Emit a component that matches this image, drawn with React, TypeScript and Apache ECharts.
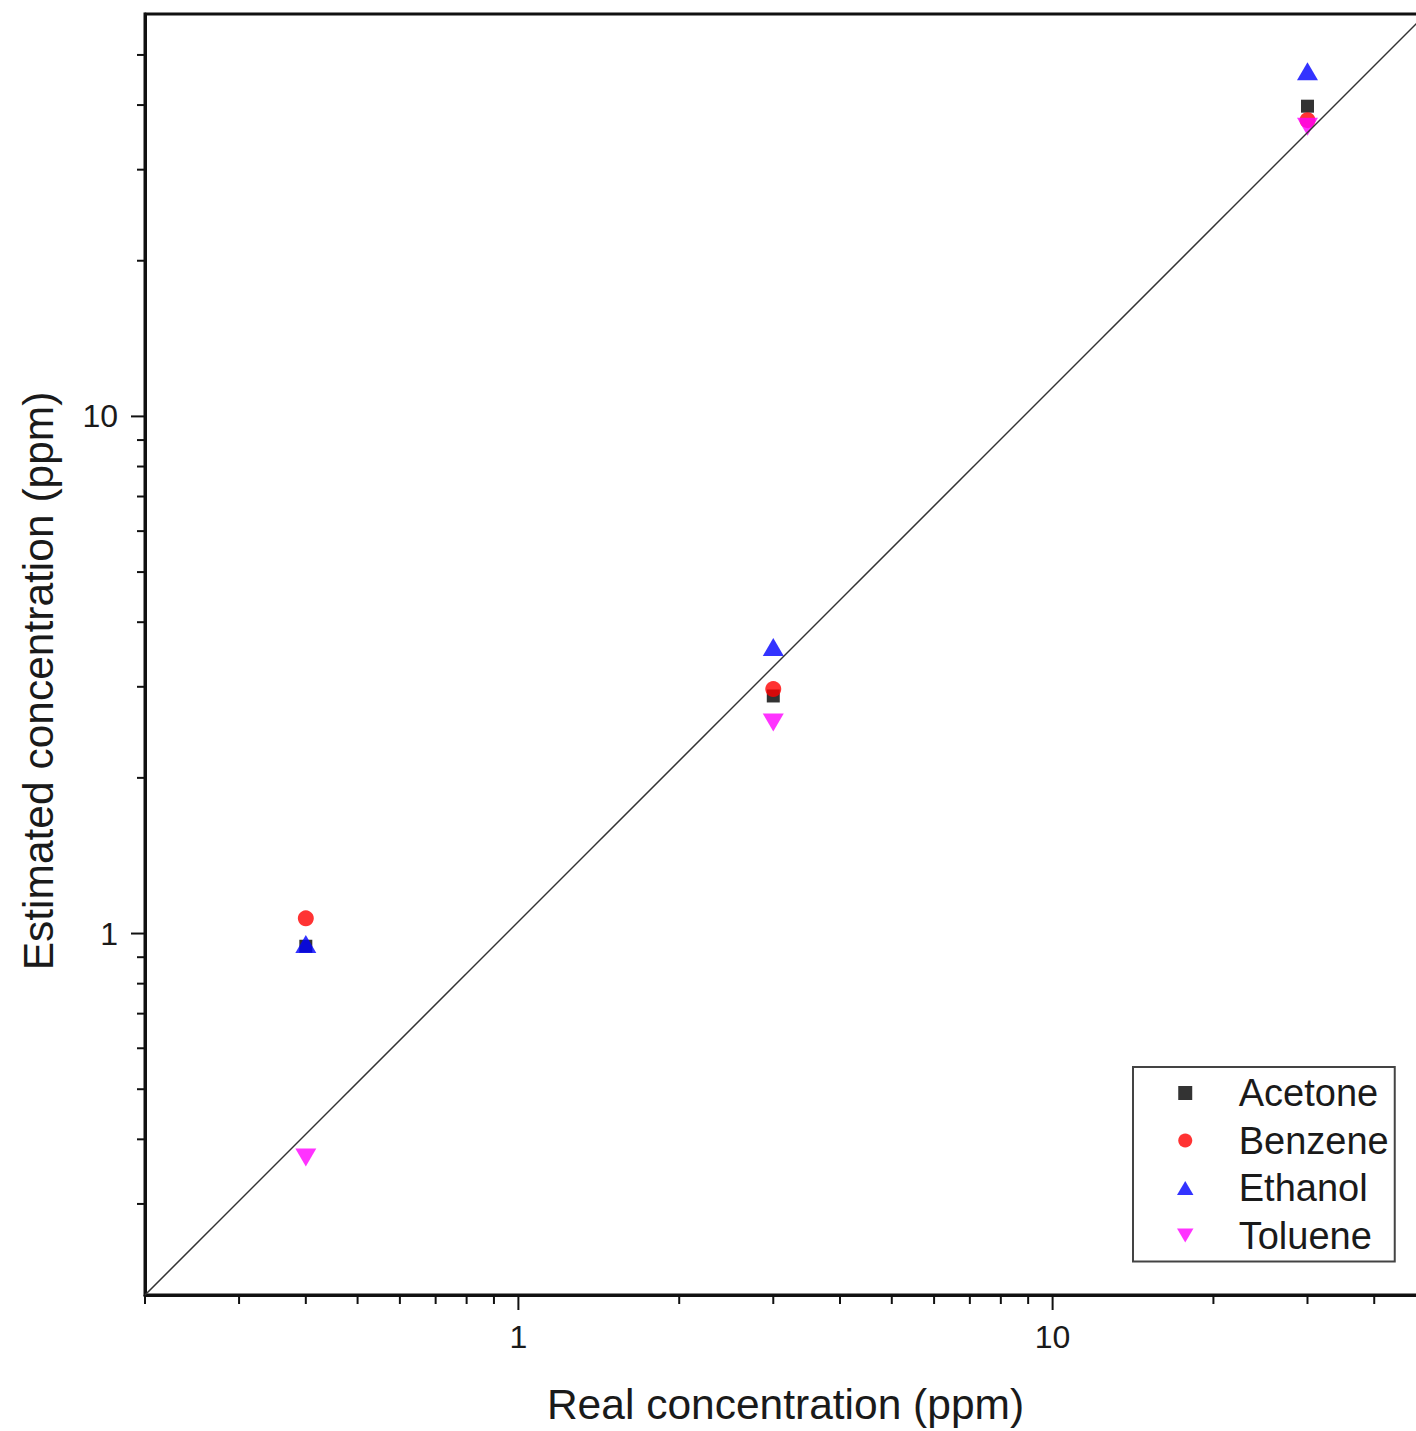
import React, { useEffect, useRef } from "react";
import * as echarts from "echarts";

// Axis ranges (log scales)
const X_MIN = 0.2;
const X_MAX = 50;
const Y_MIN = 0.2;
const Y_MAX = 60;

// Labelled decades
const MAJOR_LABELS = [1, 10];
const MAJOR_TICKS = [1, 10];
const X_MINOR_TICKS = [0.2, 0.3, 0.4, 0.5, 0.6, 0.7, 0.8, 0.9, 2, 3, 4, 5, 6, 7, 8, 9, 20, 30, 40];
const Y_MINOR_TICKS = [0.3, 0.4, 0.5, 0.6, 0.7, 0.8, 0.9, 2, 3, 4, 5, 6, 7, 8, 9, 20, 30, 40, 50];

// Data
const SERIES_NAMES = ["Acetone", "Benzene", "Ethanol", "Toluene"];
const REAL = [0.4, 3, 30];
const ACETONE = [0.945, 2.88, 39.8];
const BENZENE = [1.07, 2.97, 37.4];
const ETHANOL = [0.955, 3.58, 46.5];
const TOLUENE = [0.369, 2.56, 36.3];

const FONT = '"Liberation Sans", Arial, Helvetica, sans-serif';
const TEXT_COLOR = "#1a1a1a";

const SQUARE = "path://M0,0L10,0L10,10L0,10Z";
const TRI_UP = "path://M10,0L20,17L0,17Z";
const TRI_DOWN = "path://M0,0L20,0L10,17Z";
const LEGEND_ICONS = [SQUARE, "circle", TRI_UP, TRI_DOWN];

const fmt = (v: number) => {
  for (const m of MAJOR_LABELS) {
    if (Math.abs(Math.log10(v) - Math.log10(m)) < 1e-6) return String(m);
  }
  return "";
};

const xTick = (len: number) => (params: any, api: any) => {
  const p = api.coord([api.value(0), api.value(1)]);
  return {
    type: "line",
    shape: { x1: p[0], y1: p[1], x2: p[0], y2: p[1] + len },
    style: { stroke: "#111", lineWidth: 2 },
  };
};
const yTick = (len: number) => (params: any, api: any) => {
  const p = api.coord([api.value(0), api.value(1)]);
  return {
    type: "line",
    shape: { x1: p[0], y1: p[1], x2: p[0] - len, y2: p[1] },
    style: { stroke: "#111", lineWidth: 2 },
  };
};

const pair = (ys: number[]) => REAL.map((x, i) => [x, ys[i]]);

export default function App() {
  const ref = useRef<HTMLDivElement>(null);
  useEffect(() => {
    if (!ref.current) return;
    const chart = echarts.init(ref.current, undefined, { renderer: "svg" });
    chart.setOption({
      animation: false,
      backgroundColor: "#fff",
      grid: {
        left: 145,
        top: 14,
        width: 1281,
        height: 1281,
        show: true,
        borderColor: "#111",
        borderWidth: 3,
        backgroundColor: "transparent",
      },
      legend: {
        data: SERIES_NAMES.map((name, i) => ({ name, icon: LEGEND_ICONS[i] })),
        orient: "vertical",
        left: 1133,
        top: 1067,
        padding: [7, 6, 7, 44],
        itemWidth: 17,
        itemHeight: 14,
        itemGap: 9.5,
        symbolKeepAspect: true,
        borderColor: "#444",
        borderWidth: 2,
        borderRadius: 0,
        backgroundColor: "#fff",
        textStyle: {
          fontSize: 38,
          color: TEXT_COLOR,
          fontFamily: FONT,
          padding: [0, 0, 0, 40],
        },
      },
      xAxis: {
        type: "log",
        logBase: 10,
        min: X_MIN,
        max: X_MAX,
        axisLine: { show: true, lineStyle: { color: "#111", width: 3 } },
        axisTick: { show: false },
        splitLine: { show: false },
        axisLabel: { formatter: fmt, margin: 26, fontSize: 32, color: TEXT_COLOR, fontFamily: FONT },
        name: "Real concentration (ppm)",
        nameLocation: "middle",
        nameGap: 88,
        nameTextStyle: { fontSize: 42.5, color: TEXT_COLOR, fontFamily: FONT },
      },
      yAxis: {
        type: "log",
        logBase: 10,
        min: Y_MIN,
        max: Y_MAX,
        axisLine: { show: true, lineStyle: { color: "#111", width: 3 } },
        axisTick: { show: false },
        splitLine: { show: false },
        axisLabel: { formatter: fmt, margin: 27, fontSize: 32, color: TEXT_COLOR, fontFamily: FONT },
      },
      graphic: [
        {
          type: "text",
          x: 38,
          y: 681,
          rotation: Math.PI / 2,
          style: {
            text: "Estimated concentration (ppm)",
            fontSize: 42.5,
            fontFamily: FONT,
            fill: TEXT_COLOR,
            align: "center",
            verticalAlign: "middle",
            textAlign: "center",
            textVerticalAlign: "middle",
          },
        },
      ],
      series: [
        {
          type: "custom",
          silent: true,
          renderItem: xTick(15),
          data: MAJOR_TICKS.map((v) => [v, Y_MIN]),
        },
        {
          type: "custom",
          silent: true,
          renderItem: xTick(9),
          data: X_MINOR_TICKS.map((v) => [v, Y_MIN]),
        },
        {
          type: "custom",
          silent: true,
          renderItem: yTick(14),
          data: MAJOR_TICKS.map((v) => [X_MIN, v]),
        },
        {
          type: "custom",
          silent: true,
          renderItem: yTick(8),
          data: Y_MINOR_TICKS.map((v) => [X_MIN, v]),
        },
        {
          name: "Acetone",
          type: "scatter",
          symbol: SQUARE,
          symbolSize: 13,
          itemStyle: { color: "#000000" },
          data: pair(ACETONE),
        },
        {
          name: "Benzene",
          type: "scatter",
          symbol: "circle",
          symbolSize: 16,
          itemStyle: { color: "#ff0000" },
          data: pair(BENZENE),
        },
        {
          name: "Ethanol",
          type: "scatter",
          symbol: TRI_UP,
          symbolSize: [21, 18],
          itemStyle: { color: "#0000ff" },
          data: pair(ETHANOL),
        },
        {
          name: "Toluene",
          type: "scatter",
          symbol: TRI_DOWN,
          symbolSize: [21, 18],
          itemStyle: { color: "#ff00ff" },
          data: pair(TOLUENE),
        },
        {
          type: "line",
          silent: true,
          showSymbol: false,
          symbol: "none",
          lineStyle: { color: "#333", width: 1.5 },
          data: [
            [X_MIN, Y_MIN],
            [X_MAX, Y_MAX],
          ],
        },
      ],
    });
    return () => chart.dispose();
  }, []);
  return (
    <div
      style={{
        position: "fixed",
        left: 0,
        top: 0,
        width: 1416,
        height: 1431,
        overflow: "hidden",
        background: "#fff",
      }}
    >
      <div ref={ref} style={{ width: 1440, height: 1431 }} />
    </div>
  );
}
